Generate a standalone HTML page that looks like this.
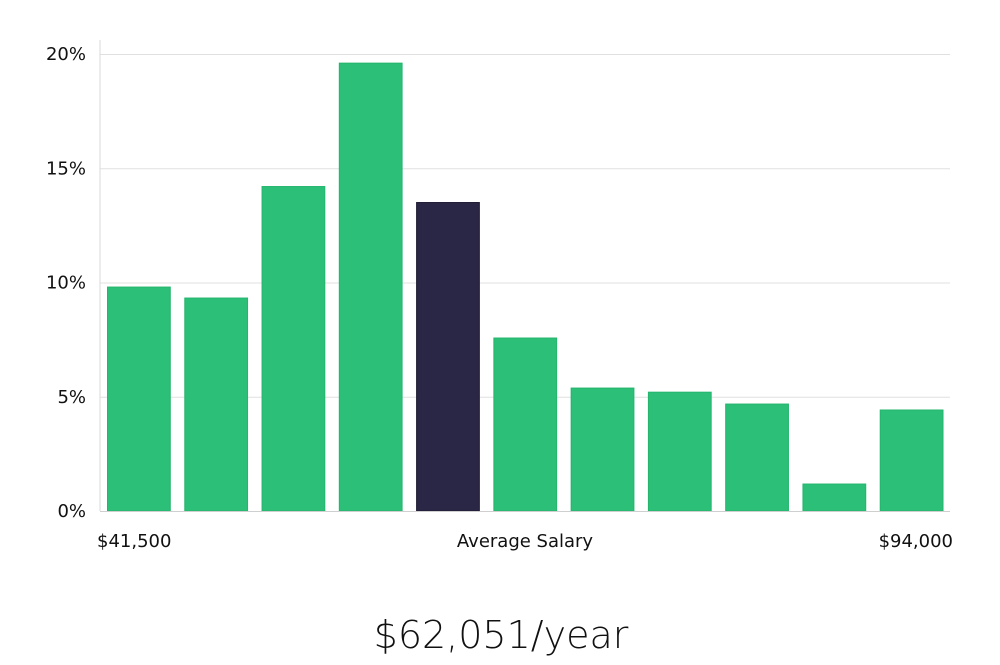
<!DOCTYPE html>
<html><head><meta charset="utf-8"><style>
html,body{margin:0;padding:0;background:#fff;}
svg text{font-family:"DejaVu Sans","Liberation Sans",sans-serif;}
</style></head><body>
<svg width="1000" height="660" viewBox="0 0 1000 660" id="chart">
<g id="grid"></g>
<line x1="100" y1="40" x2="100" y2="511" stroke="#d9d9d9" stroke-width="1"/>
<g id="yt"></g>
<g id="bars"></g>
<line x1="100" y1="511.5" x2="950" y2="511.5" stroke="#cfcfcf" stroke-width="1"/>
<text x="97" y="547" font-size="18" fill="#111">$41,500</text>
<text x="525" y="547" font-size="18" fill="#111" text-anchor="middle">Average Salary</text>
<text x="953" y="547" font-size="18" fill="#111" text-anchor="end">$94,000</text>
<text x="501" y="648" font-size="38" fill="#111" text-anchor="middle" font-family="Liberation Sans, sans-serif" font-weight="300">$62,051/year</text>
</svg>
<script>
const categories = [1,2,3,4,5,6,7,8,9,10,11];
const values = [9.8,9.32,14.2,19.6,13.5,7.57,5.38,5.2,4.68,1.18,4.42];
const highlightIndex = 4;
const yTicks = [0,5,10,15,20];
const yTickLabels = ["0%","5%","10%","15%","20%"];
const ns="http://www.w3.org/2000/svg";
const y = v => 511 - v*(511-54)/20;
const band = 850/categories.length;
const x = i => 100 + i*band;
const grid=document.getElementById('grid'), yt=document.getElementById('yt'), bars=document.getElementById('bars');
yTicks.forEach((t,i)=>{
  if(t>0){const l=document.createElementNS(ns,'line');
  l.setAttribute('x1',100);l.setAttribute('x2',950);l.setAttribute('y1',y(t)+0.5);l.setAttribute('y2',y(t)+0.5);
  l.setAttribute('stroke','#e0e0e0');
  
  
  grid.appendChild(l);}
  const tx=document.createElementNS(ns,'text');
  tx.setAttribute('x',86);tx.setAttribute('y',y(t)+6);tx.setAttribute('text-anchor','end');
  tx.setAttribute('font-size','18');tx.setAttribute('fill','#111');tx.textContent=yTickLabels[i];
  
  
  yt.appendChild(tx);
});
values.forEach((v,i)=>{
  const r=document.createElementNS(ns,'rect');
  r.setAttribute('x',x(i)+7.5);r.setAttribute('width',band-14.5);
  r.setAttribute('y',y(v));r.setAttribute('height',511-y(v));
  const hi=i===highlightIndex;
  r.setAttribute('fill',hi?'#2a2645':'#2bbf77');
  r.setAttribute('stroke',hi?'#1d1a33':'#25b56d');
  
  
  bars.appendChild(r);
});
</script>
</body></html>
